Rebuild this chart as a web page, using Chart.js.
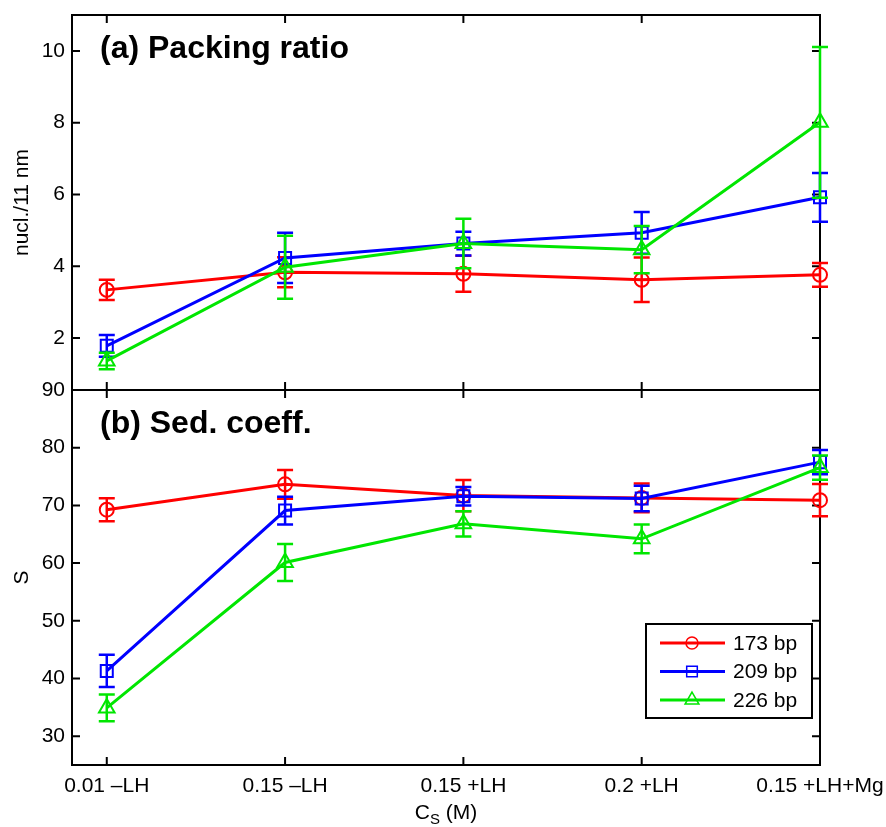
<!DOCTYPE html>
<html>
<head>
<meta charset="utf-8">
<title>Packing ratio and sedimentation coefficient</title>
<script src="https://cdn.jsdelivr.net/npm/chart.js@4.4.1/dist/chart.umd.min.js"></script>
<style>
  html, body { margin: 0; padding: 0; background: #fff; }
  #chart { display: block; }
</style>
</head>
<body>
<canvas id="chart" width="886" height="827"></canvas>
<script>
// x categories (C_S in M, with/without linker histone)
var categories = ['0.01 \u2013LH', '0.15 \u2013LH', '0.15 +LH', '0.2 +LH', '0.15 +LH+Mg'];
var seriesNames = ['173 bp', '209 bp', '226 bp'];
var seriesColors = ['#ff0000', '#0000ff', '#00e600'];
var seriesMarkers = ['circle', 'rect', 'triangle'];
var markerSizes = [7, 8.5, 9];

// (a) packing ratio, nucl./11 nm
var packing173 = [3.34, 3.83, 3.79, 3.62, 3.76];
var packing173Err = [0.28, 0.42, 0.5, 0.62, 0.33];
var packing209 = [1.78, 4.23, 4.63, 4.93, 5.92];
var packing209Err = [0.3, 0.7, 0.33, 0.58, 0.68];
var packing226 = [1.36, 3.97, 4.63, 4.46, 8.01];
var packing226Err = [0.23, 0.88, 0.69, 0.66, 2.1];

// (b) sedimentation coefficient, S
var sed173 = [69.25, 73.65, 71.7, 71.3, 70.9];
var sed173Err = [2.0, 2.5, 2.7, 2.5, 2.8];
var sed209 = [41.3, 69.1, 71.6, 71.2, 77.5];
var sed209Err = [2.8, 2.4, 1.6, 2.2, 2.1];
var sed226 = [34.9, 60.1, 66.8, 64.2, 76.55];
var sed226Err = [2.3, 3.2, 2.2, 2.5, 2.1];

var packingTicks = [2, 4, 6, 8, 10];
var sedTicks = [30, 40, 50, 60, 70, 80, 90];

var FONT = "'Liberation Sans', Arial, Helvetica, sans-serif";
Chart.defaults.font.family = FONT;
Chart.defaults.color = '#000';

function makeSet(k, values, errors, axis) {
    return {
        label: seriesNames[k],
        data: values.map(function (v, i) { return { x: i, y: v }; }),
        errors: errors,
        yAxisID: axis,
        borderColor: seriesColors[k],
        backgroundColor: 'rgba(0,0,0,0)',
        pointBackgroundColor: 'rgba(0,0,0,0)',
        pointBorderColor: seriesColors[k],
        pointStyle: seriesMarkers[k],
        pointRadius: markerSizes[k],
        pointBorderWidth: 2,
        borderWidth: 3,
        tension: 0,
        clip: false,
        order: 3 - k
    };
}

// error bars drawn right after each series
var errorBars = {
    id: 'errorBars',
    afterDatasetDraw: function (chart, args) {
        var ds = chart.data.datasets[args.index];
        var ys = chart.scales[ds.yAxisID];
        var ctx = chart.ctx;
        ctx.save();
        ctx.strokeStyle = ds.borderColor;
        ctx.lineWidth = 2.5;
        args.meta.data.forEach(function (pt, i) {
            var v = ds.data[i].y, e = ds.errors[i];
            var y1 = ys.getPixelForValue(v + e), y2 = ys.getPixelForValue(v - e);
            ctx.beginPath();
            ctx.moveTo(pt.x, y1); ctx.lineTo(pt.x, y2);
            ctx.moveTo(pt.x - 8, y1); ctx.lineTo(pt.x + 8, y1);
            ctx.moveTo(pt.x - 8, y2); ctx.lineTo(pt.x + 8, y2);
            ctx.stroke();
        });
        ctx.restore();
    }
};

// boxes round both panels with inward ticks
var frame = {
    id: 'frame',
    beforeDatasetsDraw: function (chart) {
        var ctx = chart.ctx, area = chart.chartArea, xs = chart.scales.x;
        ['yB', 'yA'].forEach(function (id) {
            var s = chart.scales[id];
            ctx.save();
            ctx.strokeStyle = '#000';
            ctx.lineWidth = 2;
            ctx.strokeRect(area.left, s.top, area.right - area.left, s.bottom - s.top);
            ctx.beginPath();
            xs.ticks.forEach(function (t) {
                var px = xs.getPixelForValue(t.value);
                ctx.moveTo(px, s.top); ctx.lineTo(px, s.top + 8);
                ctx.moveTo(px, s.bottom); ctx.lineTo(px, s.bottom - 8);
            });
            s.ticks.forEach(function (t) {
                var py = s.getPixelForValue(t.value);
                ctx.moveTo(area.left, py); ctx.lineTo(area.left + 8, py);
                ctx.moveTo(area.right, py); ctx.lineTo(area.right - 8, py);
            });
            ctx.stroke();
            ctx.restore();
        });
    }
};

// panel titles, x title with subscript, legend
var extras = {
    id: 'extras',
    afterDraw: function (chart) {
        var ctx = chart.ctx, area = chart.chartArea;
        var yA = chart.scales.yA, yB = chart.scales.yB;
        ctx.save();
        ctx.fillStyle = '#000';
        ctx.textBaseline = 'alphabetic';
        ctx.font = 'bold 32px ' + FONT;
        ctx.fillText('(a) Packing ratio', area.left + 28, yA.top + 43);
        ctx.fillText('(b) Sed. coeff.', area.left + 28, yB.top + 43);

        // C_S (M)
        var big = '21px ' + FONT, small = '15px ' + FONT;
        ctx.font = big; var wC = ctx.measureText('C').width; var wM = ctx.measureText(' (M)').width;
        ctx.font = small; var wS = ctx.measureText('S').width;
        var x0 = (area.left + area.right) / 2 - (wC + wS + wM) / 2, base = 819;
        ctx.font = big; ctx.fillText('C', x0, base);
        ctx.font = small; ctx.fillText('S', x0 + wC, base + 5);
        ctx.font = big; ctx.fillText(' (M)', x0 + wC + wS, base);

        // legend
        var bx = area.right - 174, by = yB.bottom - 141, bw = 166, bh = 94;
        ctx.fillStyle = '#fff';
        ctx.fillRect(bx, by, bw, bh);
        ctx.strokeStyle = '#000';
        ctx.lineWidth = 2;
        ctx.strokeRect(bx, by, bw, bh);
        seriesNames.forEach(function (name, k) {
            var ry = by + 19 + k * 28.5;
            ctx.strokeStyle = seriesColors[k];
            ctx.lineWidth = 3;
            ctx.beginPath();
            ctx.moveTo(bx + 14, ry); ctx.lineTo(bx + 79, ry);
            ctx.stroke();
            ctx.fillStyle = 'rgba(0,0,0,0)';
            ctx.lineWidth = 1.5;
            Chart.helpers.drawPoint(ctx, { pointStyle: seriesMarkers[k], radius: markerSizes[k] - 1, borderWidth: 1.5, rotation: 0 }, bx + 46, ry);
            ctx.fillStyle = '#000';
            ctx.font = '21px ' + FONT;
            ctx.textBaseline = 'middle';
            ctx.fillText(name, bx + 87, ry + 1);
        });
        ctx.restore();
    }
};

function noPad(s) {
    s.paddingTop = 0; s.paddingBottom = 0; s.paddingLeft = 0; s.paddingRight = 0;
}

var ctx = document.getElementById('chart').getContext('2d');
var chart = new Chart(ctx, {
    type: 'line',
    data: {
        datasets: [
            makeSet(0, packing173, packing173Err, 'yA'),
            makeSet(1, packing209, packing209Err, 'yA'),
            makeSet(2, packing226, packing226Err, 'yA'),
            makeSet(0, sed173, sed173Err, 'yB'),
            makeSet(1, sed209, sed209Err, 'yB'),
            makeSet(2, sed226, sed226Err, 'yB')
        ]
    },
    options: {
        responsive: false,
        animation: false,
        devicePixelRatio: 1,
        layout: { padding: { left: 10, right: 66, top: 15, bottom: 0 } },
        plugins: { legend: { display: false }, tooltip: { enabled: false } },
        scales: {
            x: {
                type: 'linear',
                position: 'bottom',
                min: -0.195,
                max: 4,
                grid: { display: false, drawTicks: false },
                border: { display: false },
                afterBuildTicks: function (s) {
                    s.ticks = categories.map(function (c, i) { return { value: i }; });
                },
                afterFit: function (s) { s.height = 62; noPad(s); },
                ticks: {
                    autoSkip: false, maxRotation: 0, padding: 9,
                    font: { size: 21 },
                    callback: function (v) { return categories[v]; }
                }
            },
            yB: {
                type: 'linear',
                position: 'left',
                stack: 'panels',
                stackWeight: 1,
                min: 25,
                max: 90,
                grid: { display: false, drawTicks: false },
                border: { display: false },
                afterBuildTicks: function (s) {
                    s.ticks = sedTicks.map(function (v) { return { value: v }; });
                },
                afterFit: function (s) { s.width = 62; noPad(s); },
                ticks: { padding: 7, font: { size: 21 } },
                title: { display: true, text: 'S', font: { size: 21 }, padding: 0 }
            },
            yA: {
                type: 'linear',
                position: 'left',
                stack: 'panels',
                stackWeight: 1,
                min: 0.55,
                max: 11,
                grid: { display: false, drawTicks: false },
                border: { display: false },
                afterBuildTicks: function (s) {
                    s.ticks = packingTicks.map(function (v) { return { value: v }; });
                },
                afterFit: function (s) { s.width = 62; noPad(s); },
                ticks: { padding: 7, font: { size: 21 } },
                title: { display: true, text: 'nucl./11 nm', font: { size: 21 }, padding: 0 }
            }
        }
    },
    plugins: [frame, errorBars, extras]
});
</script>
</body>
</html>
